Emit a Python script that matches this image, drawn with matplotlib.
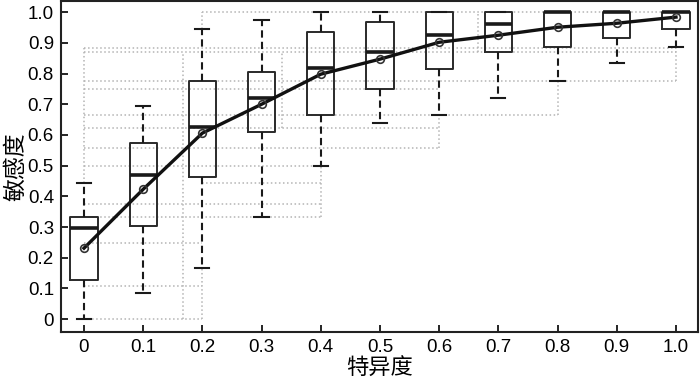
import matplotlib.pyplot as plt
import numpy as np

plt.rcParams['font.family'] = ['Liberation Sans', 'Noto Sans CJK SC', 'DejaVu Sans']

# box positions (specificity)
spec = [0, 0.1, 0.2, 0.3, 0.4, 0.5, 0.6, 0.7, 0.8, 0.9, 1.0]

# sensitivity distribution at each specificity
whis_lo = [0.0, 0.085, 0.166, 0.333, 0.50, 0.638, 0.664, 0.72, 0.775, 0.834, 0.886]
q1 = [0.127, 0.303, 0.463, 0.609, 0.664, 0.749, 0.814, 0.87, 0.886, 0.915, 0.945]
med = [0.296, 0.469, 0.626, 0.72, 0.818, 0.87, 0.925, 0.961, 1.0, 1.0, 1.0]
q3 = [0.333, 0.574, 0.775, 0.805, 0.935, 0.967, 1.0, 1.0, 1.0, 1.0, 1.0]
whis_hi = [0.443, 0.694, 0.945, 0.974, 1.0, 1.0, 1.0, 1.0, 1.0, 1.0, 1.0]
mean = [0.231, 0.423, 0.606, 0.70, 0.798, 0.847, 0.902, 0.925, 0.951, 0.964, 0.984]

# dotted reference step lines
ref_h = [  # (y, x from, x to)
    (1.0, 0.2, 1.0), (0.883, 0.0, 1.0), (0.870, 0.0, 1.0), (0.776, 0.0, 1.0),
    (0.749, 0.0, 0.6), (0.664, 0.0, 0.8), (0.622, 0.0, 0.6), (0.557, 0.0, 0.6),
    (0.50, 0.0, 0.4), (0.443, 0.2, 0.4), (0.374, 0.0, 0.4), (0.333, 0.0, 0.4),
    (0.247, 0.0, 0.2), (0.107, 0.0, 0.2), (0.0, 0.0, 0.2),
]
ref_v = [  # (x, y from, y to)
    (0.0, 0.443, 0.883), (0.168, 0.0, 0.870), (0.2, 0.0, 0.166), (0.2, 0.945, 1.0),
    (0.335, 0.622, 0.870), (0.4, 0.333, 0.50), (0.6, 0.557, 0.664),
    (0.665, 0.870, 1.0), (0.8, 0.664, 0.776), (1.0, 0.776, 0.886),
]

fig = plt.figure(figsize=(7, 3.82), dpi=100)
ax = fig.add_axes([0.087, 0.131, 0.910, 0.866])

grey = '#b4b4b4'
for y, x0, x1 in ref_h:
    ax.plot([x0, x1], [y, y], color=grey, linestyle=':', lw=1.1, zorder=1)
for x, y0, y1 in ref_v:
    ax.plot([x, x], [y0, y1], color=grey, linestyle=':', lw=1.1, zorder=1)

stats = []
for i in range(len(spec)):
    stats.append(dict(whislo=whis_lo[i], q1=q1[i], med=med[i], q3=q3[i],
                      whishi=whis_hi[i], mean=mean[i], fliers=[]))

ax.bxp(stats, positions=spec, widths=0.046, manage_ticks=False,
       showmeans=False, patch_artist=False,
       boxprops=dict(color='#2a2a2a', lw=1.4),
       medianprops=dict(color='#1a1a1a', lw=2.6),
       whiskerprops=dict(color='#1a1a1a', lw=1.5, linestyle=(0, (3.5, 2))),
       capprops=dict(color='#1a1a1a', lw=1.5), capwidths=0.024)

ax.plot(spec, mean, color='#111111', lw=2.4, zorder=4)
ax.plot(spec, mean, linestyle='none', marker='o', ms=5.5, mfc='none',
        mec='#333333', mew=1.2, zorder=5)

ax.set_xlim(-0.039, 1.037)
ax.set_ylim(-0.042, 1.036)
ax.set_xticks(spec)
ax.set_xticklabels(['0', '0.1', '0.2', '0.3', '0.4', '0.5', '0.6', '0.7', '0.8', '0.9', '1.0'])
ax.set_yticks(spec)
ax.set_yticklabels(['0', '0.1', '0.2', '0.3', '0.4', '0.5', '0.6', '0.7', '0.8', '0.9', '1.0'])
ax.tick_params(direction='in', length=5, width=1.2, labelsize=13.5)
ax.tick_params(axis='x', pad=5)
ax.tick_params(axis='y', pad=5)
for s in ax.spines.values():
    s.set_linewidth(1.5)
    s.set_color('#222222')

ax.set_xlabel('特异度', fontsize=16, family=['Noto Sans CJK SC'], labelpad=1)
ax.set_ylabel('敏感度', fontsize=16.5, family=['Noto Sans CJK SC'], labelpad=0)

fig.savefig('out.png', dpi=100)
